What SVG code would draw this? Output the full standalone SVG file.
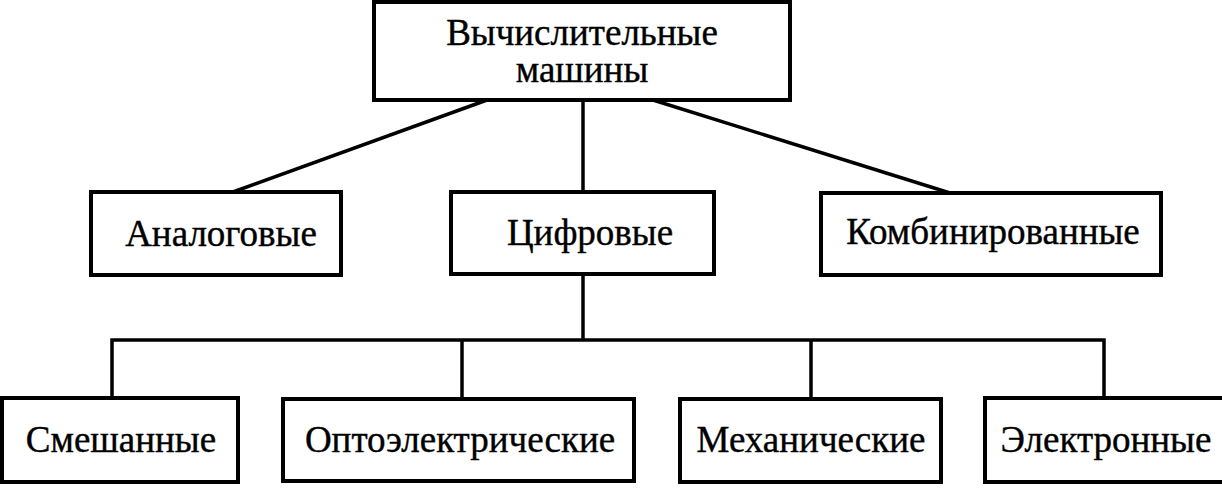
<svg xmlns="http://www.w3.org/2000/svg" width="1222" height="488" viewBox="0 0 1222 488">
<style>
.box{fill:#fff;stroke:#000;stroke-width:4}
.c{fill:none;stroke:#000;stroke-width:3.5}
.t{font-family:'Liberation Serif','DejaVu Serif',serif;font-size:37px;fill:#000;text-anchor:middle;stroke:#000;stroke-width:0.4}
</style>
<rect width="1222" height="488" fill="#fff"/>
<g id="connectors">
<line class="c" x1="487" y1="100" x2="233" y2="192"/>
<line class="c" x1="583" y1="100" x2="583" y2="192"/>
<line class="c" x1="653" y1="100" x2="950" y2="193"/>
<line class="c" x1="583" y1="274" x2="583" y2="340"/>
<polyline class="c" points="112,398 112,340 1104,340 1104,398"/>
<line class="c" x1="462" y1="340" x2="462" y2="399"/>
<line class="c" x1="811" y1="340" x2="811" y2="399"/>
</g>
<g id="root"><rect class="box" x="374" y="2" width="416" height="98"/><text class="t" x="582" y="45">Вычислительные</text><text class="t" x="582" y="82">машины</text></g>
<g id="analog"><rect class="box" x="91" y="192" width="250" height="83"/><text class="t" x="221" y="246">Аналоговые</text></g>
<g id="digital"><rect class="box" x="451" y="192" width="263" height="82"/><text class="t" x="590" y="245">Цифровые</text></g>
<g id="combined"><rect class="box" x="821" y="193" width="340" height="82"/><text class="t" x="993" y="244">Комбинированные</text></g>
<g id="mixed"><rect class="box" x="2" y="398" width="236" height="84"/><text class="t" x="121" y="452">Смешанные</text></g>
<g id="opto"><rect class="box" x="283" y="399" width="351" height="82"/><text class="t" x="460" y="452">Оптоэлектрические</text></g>
<g id="mech"><rect class="box" x="680" y="399" width="261" height="83"/><text class="t" x="811" y="452">Механические</text></g>
<g id="electronic"><rect class="box" x="985" y="398" width="245" height="84"/><text class="t" x="1106" y="452">Электронные</text></g>
</svg>
